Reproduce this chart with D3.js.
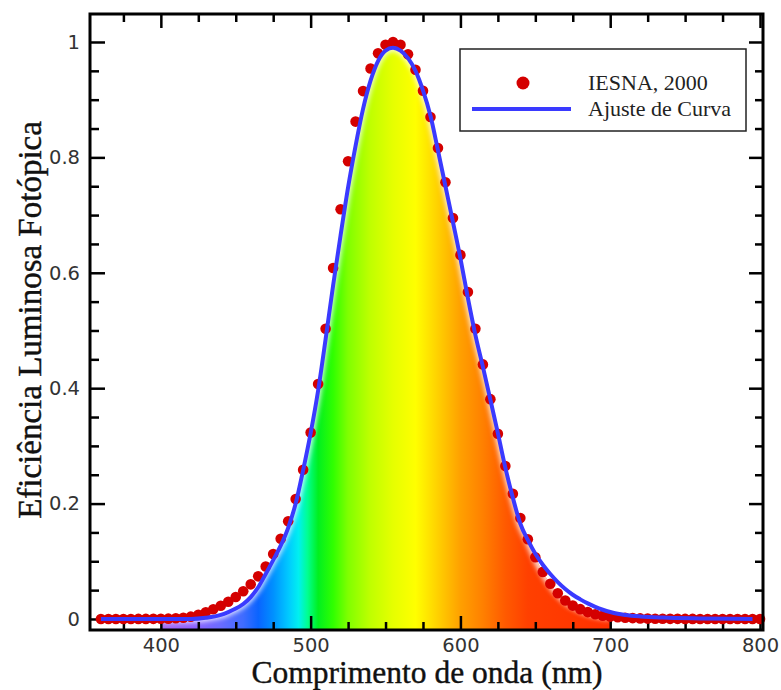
<!DOCTYPE html>
<html>
<head>
<meta charset="utf-8">
<script src="https://cdn.jsdelivr.net/npm/d3@7"></script>
<style>
  body { margin: 0; background: #fff; }
  svg { display: block; }
</style>
</head>
<body>
<div id="chart"></div>
<script>
// IESNA (2000) photopic data, every 5 nm
var iesnaNm = [360,365,370,375,380,385,390,395,400,405,410,415,420,425,430,435,440,445,450,455,
  460,465,470,475,480,485,490,495,500,505,510,515,520,525,530,535,540,545,550,555,
  560,565,570,575,580,585,590,595,600,605,610,615,620,625,630,635,640,645,650,655,
  660,665,670,675,680,685,690,695,700,705,710,715,720,725,730,735,740,745,750,755,
  760,765,770,775,780,785,790,795,800];
var iesnaV = [0,0,0,0,0,0.0001,0.0001,0.0002,0.0004,0.0006,0.0012,0.0022,0.004,0.0073,0.0116,0.0168,0.023,0.0298,0.038,0.048,
  0.06,0.0739,0.091,0.1126,0.139,0.1693,0.208,0.2586,0.323,0.4073,0.503,0.6082,0.71,0.7932,0.862,0.9149,0.954,0.9803,0.995,1.0,
  0.995,0.9786,0.952,0.9154,0.87,0.8163,0.757,0.6949,0.631,0.5668,0.503,0.4412,0.381,0.321,0.265,0.217,0.175,0.1382,0.107,0.0816,
  0.061,0.0446,0.032,0.0232,0.017,0.0119,0.0082,0.0057,0.0041,0.0029,0.0021,0.0015,0.001,0.0007,0.0005,0.0004,0.0002,0.0002,0.0001,0.0001,
  0,0,0,0,0,0,0,0,0];

// curve fit
var fitNm = [360,400,420,430,440,445,450,455,460,465,470,475,480,485,490,495,500,505,510,515,
  520,525,530,535,540,545,550,555,560,565,570,575,580,585,590,595,600,605,610,615,
  620,625,630,635,640,645,650,655,660,665,670,675,680,685,690,695,700,705,710,720,735,760,795];
var fitV = [0,0,0,0.002,0.007,0.012,0.018,0.026,0.038,0.055,0.078,0.102,0.127,0.158,0.2,0.258,0.322,0.396,0.485,0.578,
  0.665,0.748,0.82,0.884,0.933,0.967,0.985,0.99,0.985,0.972,0.95,0.916,0.872,0.812,0.75,0.688,0.625,0.556,0.492,0.437,
  0.38,0.322,0.262,0.21,0.165,0.137,0.113,0.094,0.078,0.064,0.052,0.042,0.034,0.027,0.021,0.016,0.012,0.009,0.007,0.0045,0.0025,0.001,0];

var xMajor = [400,500,600,700,800];
var yMajor = [0,0.2,0.4,0.6,0.8,1];
var yLabels = ["0","0.2","0.4","0.6","0.8","1"];

// spectrum colours under the curve
var specNm = [400,420,440,455,465,475,485,492,498,505,515,525,540,555,570,580,590,600,615,630,645,700];
var specCol = ["#a46cf0","#9060ff","#6a6cff","#3f6cff","#0a64ff","#0090ff","#00c8ff","#00f0f0","#00ff90","#00f020","#30ff00",
  "#80ff00","#c0ff00","#e6ff00","#ffff00","#ffe000","#ffc000","#ffa000","#ff8000","#ff5a00","#ff4000","#ff3000"];

var margin = {top: 14, right: 18, bottom: 60, left: 90},
    width = 781 - margin.left - margin.right,
    height = 690 - margin.top - margin.bottom;

var svg = d3.select("#chart").append("svg")
    .attr("width", 781)
    .attr("height", 690);
var g = svg.append("g")
    .attr("transform", "translate(" + margin.left + "," + margin.top + ")");

var x = d3.scaleLinear().domain([352.7, 802]).range([0, width]);
var y = d3.scaleLinear().domain([-0.0191, 1.0485]).range([height, 0]);

var defs = svg.append("defs");
var grad = defs.append("linearGradient")
    .attr("id", "spec")
    .attr("gradientUnits", "userSpaceOnUse")
    .attr("x1", x(400)).attr("x2", x(700)).attr("y1", 0).attr("y2", 0);
specNm.forEach(function(n, i) {
  grad.append("stop")
    .attr("offset", (n - 400) / 300)
    .attr("stop-color", specCol[i]);
});
defs.append("filter").attr("id", "soft")
  .attr("x", "-20%").attr("y", "-20%").attr("width", "140%").attr("height", "140%")
  .append("feGaussianBlur").attr("stdDeviation", 2.5);

// fill area: under the lower of data and fit, 400-700 nm
var fitAt = d3.scaleLinear().domain(fitNm).range(fitV);
var fillPts = [];
iesnaNm.forEach(function(n, i) {
  if (n >= 400 && n <= 700) fillPts.push([n, Math.min(iesnaV[i], fitAt(n))]);
});
var area = d3.area()
    .x(function(d) { return x(d[0]); })
    .y0(height)
    .y1(function(d) { return y(d[1]); })
    .curve(d3.curveMonotoneX);
defs.append("clipPath").attr("id", "under")
  .append("path").datum(fillPts).attr("d", area);

var spec = g.append("g").attr("clip-path", "url(#under)");
spec.append("rect")
    .attr("x", x(400)).attr("width", x(700) - x(400))
    .attr("y", 0).attr("height", height)
    .attr("fill", "url(#spec)");
spec.append("path")
    .datum(fillPts)
    .attr("d", d3.line().x(function(d) { return x(d[0]); }).y(function(d) { return y(d[1]); }).curve(d3.curveMonotoneX))
    .attr("fill", "none")
    .attr("stroke", "#fff")
    .attr("stroke-width", 7)
    .attr("opacity", 0.85)
    .attr("filter", "url(#soft)");

// axes, ticks pointing inward
function minorOf(list, step, lo, hi) {
  var out = [];
  for (var v = lo; v <= hi + 1e-9; v += step) {
    var isMajor = list.some(function(m) { return Math.abs(m - v) < 1e-6; });
    if (!isMajor) out.push(+v.toFixed(3));
  }
  return out;
}
var xMinor = minorOf(xMajor, 25, 375, 800);
var yMinor = minorOf(yMajor, 0.05, 0, 1);

function styleAxis(sel) {
  sel.select(".domain").remove();
  sel.selectAll(".tick line").attr("stroke", "#000").attr("stroke-width", 2.5);
  sel.selectAll(".tick text")
    .attr("fill", "#333")
    .style("font-family", "DejaVu Sans, sans-serif")
    .style("font-size", "19.5px");
}

g.append("g").attr("transform", "translate(0," + height + ")")
  .call(d3.axisBottom(x).tickValues(xMajor).tickSize(-14).tickPadding(8).tickFormat(d3.format("d")))
  .call(styleAxis);
g.append("g").attr("transform", "translate(0," + height + ")")
  .call(d3.axisBottom(x).tickValues(xMinor).tickSize(-8).tickFormat(""))
  .call(styleAxis);
g.append("g")
  .call(d3.axisTop(x).tickValues(xMajor).tickSize(-14).tickFormat(""))
  .call(styleAxis);
g.append("g")
  .call(d3.axisTop(x).tickValues(xMinor).tickSize(-8).tickFormat(""))
  .call(styleAxis);
g.append("g")
  .call(d3.axisLeft(y).tickValues(yMajor).tickSize(-15).tickPadding(10)
    .tickFormat(function(d, i) { return yLabels[i]; }))
  .call(styleAxis);
g.append("g")
  .call(d3.axisLeft(y).tickValues(yMinor).tickSize(-9).tickFormat(""))
  .call(styleAxis);
g.append("g").attr("transform", "translate(" + width + ",0)")
  .call(d3.axisRight(y).tickValues(yMajor).tickSize(-14).tickFormat(""))
  .call(styleAxis);
g.append("g").attr("transform", "translate(" + width + ",0)")
  .call(d3.axisRight(y).tickValues(yMinor).tickSize(-8).tickFormat(""))
  .call(styleAxis);

// data points
g.selectAll("circle.pt")
  .data(iesnaNm)
  .enter().append("circle")
    .attr("class", "pt")
    .attr("cx", function(d) { return x(d); })
    .attr("cy", function(d, i) { return y(iesnaV[i]); })
    .attr("r", 5.3)
    .attr("fill", "#d40000");

// fit line
g.append("path")
  .datum(fitNm.map(function(n, i) { return [n, fitV[i]]; }))
  .attr("d", d3.line().x(function(d) { return x(d[0]); }).y(function(d) { return y(d[1]); }).curve(d3.curveMonotoneX))
  .attr("fill", "none")
  .attr("stroke", "#3a3aff")
  .attr("stroke-width", 4);

// frame
g.append("rect")
  .attr("width", width).attr("height", height)
  .attr("fill", "none")
  .attr("stroke", "#000")
  .attr("stroke-width", 3);

// legend
var leg = svg.append("g");
leg.append("rect")
  .attr("x", 460).attr("y", 49).attr("width", 286).attr("height", 82)
  .attr("fill", "#fff").attr("stroke", "#222").attr("stroke-width", 1.5);
leg.append("circle").attr("cx", 523).attr("cy", 83).attr("r", 6.5).attr("fill", "#d40000");
leg.append("line").attr("x1", 472).attr("x2", 571).attr("y1", 109).attr("y2", 109)
  .attr("stroke", "#3a3aff").attr("stroke-width", 4);
leg.selectAll("text.lg")
  .data(["IESNA, 2000", "Ajuste de Curva"])
  .enter().append("text")
    .attr("class", "lg")
    .attr("x", 588)
    .attr("y", function(d, i) { return 90 + i * 26; })
    .style("font-family", "Liberation Serif, serif")
    .style("font-size", "22px")
    .attr("fill", "#222")
    .text(function(d) { return d; });

// axis titles
svg.append("text")
  .attr("x", 427).attr("y", 683)
  .attr("text-anchor", "middle")
  .style("font-family", "Liberation Serif, serif")
  .style("font-size", "31.5px")
  .attr("fill", "#111")
  .attr("stroke", "#111").attr("stroke-width", 0.4)
  .text("Comprimento de onda (nm)");
svg.append("text")
  .attr("transform", "translate(41,320) rotate(-90)")
  .attr("text-anchor", "middle")
  .style("font-family", "Liberation Serif, serif")
  .style("font-size", "33px")
  .attr("fill", "#111")
  .attr("stroke", "#111").attr("stroke-width", 0.4)
  .text("Eficiência Luminosa Fotópica");
</script>
</body>
</html>
